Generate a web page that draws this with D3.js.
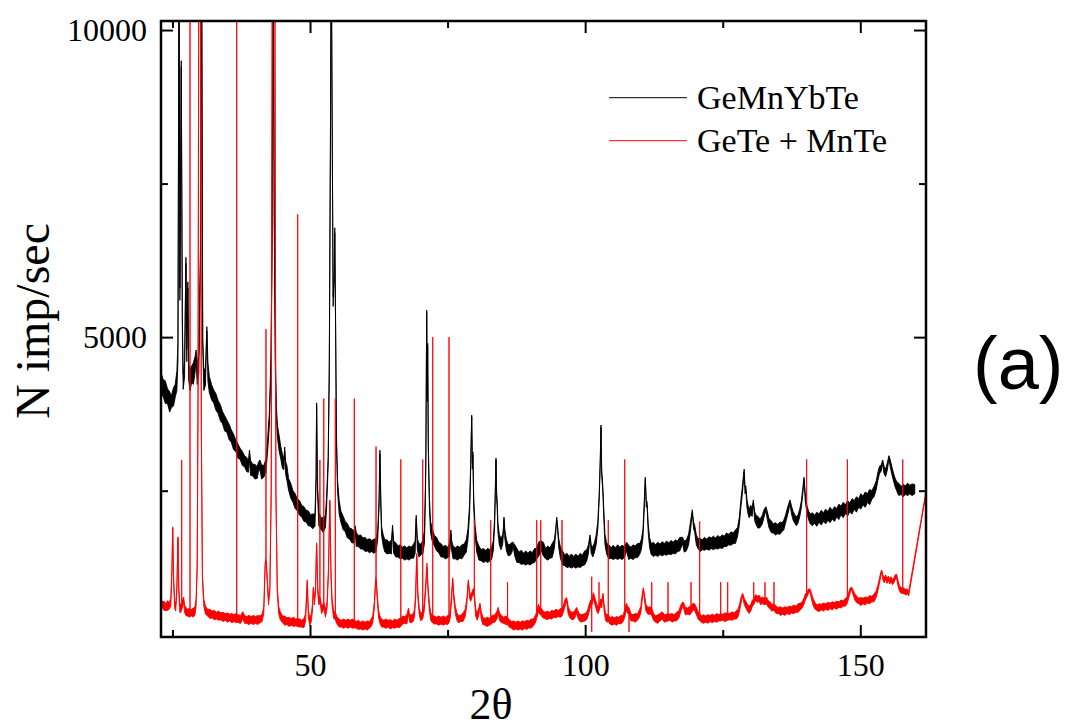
<!DOCTYPE html>
<html>
<head>
<meta charset="utf-8">
<title>GeMnYbTe / GeTe + MnTe</title>
<style>
    body { margin: 0; background: #fff; }
    svg text { font-family: "Liberation Serif", "Times New Roman", serif; fill: #000; }
</style>
</head>
<body>
<svg id="chart" width="1066" height="728"></svg>
<script src="https://d3js.org/d3.v7.min.js"></script>
<script>
    // tick values
    const xTicksMajor = [50, 100, 150];
    const xTicksMinor = [25, 75, 125];
    const yTicksMajor = [5000, 10000];
    const yTicksMinor = [2500, 7500];

    const seriesNames = ["GeMnYbTe", "GeTe + MnTe"];
    const seriesColors = ["#000000", "#ff0000"];

    // [2theta, low, high] of the noisy trace
    const gemnybte = [
        [22.9,4060,4440],[23.3,4040,4310],[23.7,3920,4290],[24.1,3920,4160],[24.5,3780,4110],[24.8,3850,4040],[25.2,3880,4180],[25.5,4020,4230],[25.8,4130,4440],
        [26.0,4600,4900],[26.2,11500,11500],[26.35,5600,5800],[26.6,9400,9500],[26.8,5100,5300],[26.95,4150,4400],[27.2,4350,4600],[27.45,6200,6300],
        [27.6,4600,4800],[27.8,5800,5900],[27.95,4300,4550],[28.2,4130,4480],[28.5,4270,4530],[28.8,4230,4580],[29.1,4420,4680],[29.3,4650,4790],
        [29.5,4230,4580],[29.8,4420,4730],[30.1,6400,6500],[30.3,11500,11500],[30.5,4900,5000],[30.7,4130,4480],[31.0,4220,4480],[31.25,5100,5170],
        [31.45,4280,4580],[31.7,4100,4360],
        [32.1,3980,4230],[32.5,3930,4140],[32.9,3810,4080],[33.3,3760,3970],[33.7,3640,3900],[34.1,3590,3790],[34.5,3470,3720],[34.9,3450,3650],
        [35.3,3330,3580],[35.7,3290,3490],[36.1,3170,3420],[36.5,3140,3330],[36.9,3030,3260],[37.3,3010,3190],[37.7,2910,3140],[38.1,2890,3070],
        [38.5,2810,3040],[38.8,2800,2990],[39.0,3000,3160],[39.2,2750,2990],[39.6,2740,2930],[40.0,2690,2930],[40.4,2700,2890],[40.6,2800,2960],
        [40.9,2850,3000],[41.2,2690,2920],[41.6,2720,2910],[42.0,2800,3020],[42.3,3150,3350],[42.6,3550,3750],[42.9,4450,4650],[43.1,6400,6550],
        [43.3,11500,11500],[43.5,6900,7050],[43.7,4450,4650],[43.9,3650,3850],[44.1,3350,3550],[44.4,3140,3390],[44.7,3010,3210],[45.0,2860,3090],
        [45.25,2840,3020],[45.4,3150,3210],[45.55,2780,2980],[45.8,2670,2910],[46.1,2510,2700],[46.5,2380,2620],[46.9,2310,2500],[47.3,2210,2450],
        [47.7,2170,2360],[48.1,2100,2340],[48.5,2070,2260],[48.9,2000,2240],[49.3,1990,2180],[49.7,1930,2170],[50.1,1920,2110],[50.5,1880,2120],
        [50.9,1920,2120],[51.1,2600,2750],[51.2,3880,3930],[51.35,2500,2650],[51.6,1930,2150],[52.0,1870,2060],[52.4,1820,2060],[52.8,1900,2100],
        [53.0,2200,2380],[53.3,2900,3050],[53.5,4400,4550],[53.7,7900,8050],[53.85,11500,11500],[54.0,8900,9000],[54.2,5500,5650],[54.4,5900,6050],
        [54.5,6700,6780],[54.65,5100,5250],[54.8,3300,3450],[55.0,2500,2680],[55.3,2120,2340],[55.6,1990,2170],[56.0,1870,2090],[56.4,1830,2000],
        [56.8,1730,1960],[57.2,1710,1890],[57.6,1650,1880],[58.0,1650,1840],[58.2,1850,1930],[58.4,1590,1820],[58.8,1590,1770],[59.2,1550,1780],
        [59.6,1550,1730],[60.0,1510,1740],[60.4,1520,1700],[60.8,1490,1720],[61.2,1510,1690],[61.6,1480,1710],[62.0,1510,1720],[62.3,1700,1850],
        [62.55,2250,2350],[62.7,3100,3160],[62.85,2320,2450],[63.0,1780,1920],[63.3,1600,1780],[63.6,1500,1700],[64.0,1470,1700],[64.4,1480,1660],
        [64.8,1470,1700],[65.0,1850,1940],[65.2,1480,1680],[65.6,1420,1650],[66.0,1420,1600],[66.4,1390,1620],[66.8,1400,1580],[67.2,1370,1600],
        [67.6,1390,1570],[68.0,1370,1600],[68.4,1400,1580],[68.8,1400,1630],[69.1,1480,1680],[69.3,2050,2100],[69.5,1540,1720],[69.8,1420,1640],
        [70.2,1460,1630],[70.5,1470,1700],[70.8,1650,1850],[70.95,2300,2500],[71.05,2950,3050],[71.2,5400,5440],[71.3,3950,4050],[71.38,4850,4900],
        [71.5,3150,3250],[71.7,2220,2380],[71.9,1820,2000],[72.2,1680,1890],[72.6,1600,1770],[73.0,1520,1740],[73.4,1490,1660],[73.8,1420,1640],
        [74.2,1420,1590],[74.6,1390,1610],[75.0,1410,1580],[75.3,1430,1630],[75.45,1550,1700],[75.6,1800,1860],[75.75,1520,1680],[76.0,1390,1600],
        [76.4,1390,1570],[76.8,1370,1600],[77.2,1400,1580],[77.6,1390,1620],[78.0,1450,1630],[78.4,1500,1700],[78.7,1700,1880],[79.0,2120,2280],
        [79.2,2850,2950],[79.38,3700,3730],[79.5,2850,2950],[79.6,3080,3130],[79.75,2220,2380],[80.0,1760,1930],[80.3,1500,1690],[80.7,1370,1600],
        [81.1,1360,1540],[81.5,1330,1560],[81.9,1350,1530],[82.3,1330,1560],[82.7,1360,1540],[83.0,1380,1580],[83.3,1520,1680],[83.55,1920,2060],
        [83.7,2550,2650],[83.8,3000,3030],[83.92,2350,2450],[84.0,2250,2370],[84.15,1830,1980],[84.4,1620,1790],[84.7,1540,1720],[85.0,1620,1780],
        [85.15,1800,1900],[85.25,2030,2070],[85.4,1720,1870],[85.7,1520,1700],[86.0,1440,1620],[86.4,1450,1630],[86.7,1500,1660],[86.9,1600,1660],
        [87.2,1440,1620],[87.6,1330,1560],[88.0,1330,1500],[88.4,1300,1530],[88.8,1310,1480],[89.2,1290,1520],[89.6,1310,1480],[90.0,1290,1520],
        [90.4,1320,1490],[90.8,1330,1560],[91.2,1390,1560],[91.6,1440,1670],[92.0,1530,1680],[92.4,1440,1660],[92.8,1390,1560],[93.2,1370,1600],
        [93.6,1400,1570],[94.0,1410,1640],[94.4,1560,1700],[94.65,1800,1880],[94.83,2030,2070],[95.0,1850,1920],[95.2,1580,1720],[95.5,1400,1580],
        [95.9,1290,1520],[96.3,1280,1450],[96.7,1250,1480],[97.1,1260,1430],[97.5,1240,1470],[97.9,1260,1430],[98.3,1240,1470],[98.7,1260,1430],
        [99.1,1250,1480],[99.5,1280,1450],[99.9,1290,1520],[100.3,1360,1540],[100.6,1480,1620],[100.88,1740,1780],[101.1,1480,1620],[101.4,1420,1580],
        [101.7,1500,1660],[102.0,1620,1780],[102.3,1880,2000],[102.55,2350,2450],[102.75,2950,3050],[102.88,3530,3570],[103.0,2750,2850],
        [103.2,2500,2600],[103.4,2030,2180],[103.6,1630,1790],[103.9,1470,1650],[104.3,1390,1620],[104.7,1400,1570],[105.1,1380,1610],
        [105.5,1400,1570],[105.9,1380,1620],[106.3,1400,1580],[106.7,1380,1610],[107.1,1410,1590],[107.55,1520,1660],[107.9,1380,1610],
        [108.3,1400,1580],[108.7,1380,1620],[109.1,1410,1600],[109.5,1410,1640],[109.9,1460,1640],[110.2,1540,1700],[110.5,1720,1860],
        [110.7,2130,2250],[110.93,2680,2720],[111.1,2230,2350],[111.25,2260,2320],[111.45,1830,1970],[111.7,1580,1740],[112.0,1460,1640],
        [112.4,1430,1660],[112.8,1450,1620],[113.2,1430,1660],[113.6,1460,1630],[114.0,1440,1670],[114.4,1460,1640],[114.8,1450,1680],
        [115.2,1470,1650],[115.6,1460,1690],[116.0,1480,1660],[116.4,1470,1700],[116.8,1510,1680],[117.2,1520,1740],[117.7,1640,1740],
        [118.0,1500,1680],[118.4,1520,1700],[118.8,1620,1790],[119.1,1820,1970],[119.47,2140,2190],[119.7,1880,1990],[119.9,1830,1940],
        [120.2,1620,1780],[120.5,1560,1720],[120.9,1510,1720],[121.3,1540,1700],[121.7,1530,1740],[122.1,1550,1710],[122.5,1530,1750],
        [122.9,1560,1730],[123.3,1540,1760],[123.7,1560,1730],[124.1,1550,1770],[124.5,1570,1740],[124.9,1560,1780],[125.3,1590,1760],
        [125.7,1590,1810],[126.1,1620,1790],[126.5,1610,1830],[126.9,1640,1810],[127.3,1640,1860],[127.7,1760,1900],[128.0,1930,2060],
        [128.3,2230,2350],[128.55,2430,2550],[128.75,2640,2740],[128.9,2800,2850],[129.05,2450,2560],[129.2,2500,2580],[129.4,2230,2360],
        [129.6,2120,2260],[129.8,2060,2210],[130.1,2110,2260],[130.35,2080,2220],[130.56,2300,2350],[130.8,2020,2160],[131.0,1960,2110],
        [131.4,1890,2080],[131.8,1900,2040],[132.2,1960,2100],[132.5,2070,2190],[132.86,2180,2240],[133.1,2030,2160],[133.4,1900,2050],
        [133.8,1820,2010],[134.2,1810,1960],[134.6,1780,1980],[135.0,1800,1950],[135.4,1790,1990],[135.8,1840,1980],[136.1,1860,2020],
        [136.4,1970,2100],[136.7,2070,2200],[137.0,2180,2290],[137.22,2300,2350],[137.5,2120,2250],[137.8,2020,2160],[138.1,1970,2110],
        [138.4,1930,2070],[138.7,1980,2110],[139.0,2080,2200],[139.3,2230,2340],[139.6,2490,2580],[139.77,2680,2720],[140.0,2330,2450],
        [140.3,2130,2260],[140.6,2030,2170],[140.9,1960,2120],
        [141.3,1930,2140],[141.7,1970,2100],[142.1,1920,2150],[142.5,1990,2120],[142.9,1940,2180],[143.3,2000,2140],[143.7,1960,2200],
        [144.1,2020,2160],[144.5,1980,2230],[144.9,2040,2180],[145.3,2000,2240],[145.7,2070,2210],[146.1,2030,2280],[146.5,2110,2250],
        [146.9,2060,2310],[147.3,2130,2270],[147.7,2090,2340],[148.1,2160,2300],[148.5,2120,2370],[148.9,2200,2340],[149.3,2150,2400],
        [149.7,2230,2370],[150.1,2200,2450],[150.5,2270,2410],[150.9,2230,2480],[151.3,2310,2450],[151.7,2270,2520],[152.1,2360,2500],
        [152.5,2400,2570],[152.9,2520,2660],[153.2,2670,2800],[153.5,2780,2900],[153.8,2820,2920],[154.07,2940,3000],[154.3,2780,2900],
        [154.6,2730,2850],[154.9,2830,2950],[155.2,3020,3070],[155.45,2880,3000],[155.7,2780,2900],[156.0,2670,2800],[156.3,2570,2710],
        [156.6,2500,2650],[157.0,2420,2620],[157.4,2440,2570],[157.8,2400,2600],[158.2,2440,2580],[158.6,2420,2620],[159.0,2450,2590],
        [159.4,2420,2610],[159.9,2450,2600]
    ];

    const geteMnte = [
        [22.9,610,740],[23.2,580,690],[23.5,550,700],[23.8,550,660],[24.1,550,710],[24.4,570,680],[24.7,620,750],[24.9,1150,1210],[25.05,1880,1910],
        [25.2,1060,1120],[25.4,590,710],[25.6,540,660],[25.8,860,930],[26.0,1720,1750],[26.15,860,940],[26.35,510,630],[26.6,540,670],
        [26.68,560,680],[26.68,560,3000],[26.68,560,680],
        [26.9,620,740],[27.05,690,770],[27.2,520,640],[27.5,460,590],[27.8,460,570],[28.0,440,580],
        [28.19,450,570],[28.19,450,11500],[28.19,450,570],
        [28.5,460,570],[28.8,440,590],[29.1,480,610],[29.3,620,740],[29.5,1250,1330],[29.65,3950,4050],[29.8,11500,11500],[30.1,11500,11500],
        [30.25,3450,3550],[30.45,1050,1130],[30.7,620,740],[31.0,490,620],[31.4,460,570],[31.8,420,570],[32.2,430,540],[32.6,400,550],
        [33.0,410,520],[33.4,390,540],[33.8,400,510],[34.2,370,520],[34.6,390,500],[35.0,360,510],[35.4,380,490],[35.8,350,500],[36.2,370,480],
        [36.5,350,500],
        [36.68,360,490],[36.68,360,11500],[36.68,360,490],
        [37.0,350,480],[37.4,340,470],[37.8,420,530],[38.1,340,470],[38.5,340,450],[38.9,320,470],[39.3,340,450],[39.7,320,470],[40.1,340,450],
        [40.5,320,470],[40.9,350,460],[41.3,370,490],[41.6,500,610],[41.85,1260,1320],
        [42.0,1360,1420],[42.0,1360,5130],[42.0,1360,1420],
        [42.2,1060,1130],[42.45,640,750],[42.7,850,930],[42.95,2450,2550],[43.15,11500,11500],[43.6,11500,11500],[43.8,2450,2550],[44.05,850,950],
        [44.3,500,620],[44.6,400,530],[45.0,350,460],[45.4,310,460],[45.8,320,430],[46.2,290,440],[46.6,310,420],[47.0,290,440],[47.4,300,410],
        [47.76,290,420],[47.76,290,7000],[47.76,290,420],
        [48.1,280,410],[48.5,280,390],[48.9,270,420],[49.2,380,500],[49.5,1000,1050],[49.7,440,550],[49.95,310,440],[50.2,360,480],[50.45,540,650],
        [50.6,890,930],[50.8,640,750],[51.0,850,930],[51.2,1610,1650],[51.4,850,940],[51.6,640,750],
        [51.8,700,800],[51.8,700,3000],[51.8,700,800],
        [52.1,500,620],[52.35,540,650],
        [52.5,600,700],[52.5,600,4000],[52.5,600,700],
        [52.8,440,560],[53.1,590,700],[53.35,1150,1230],[53.6,2320,2350],[53.8,1150,1230],[54.0,640,750],[54.3,420,540],
        [54.6,400,520],[54.6,400,4000],[54.6,400,520],
        [54.9,330,450],[55.3,280,410],[55.7,280,390],[56.1,260,410],[56.5,280,390],[56.9,260,410],[57.3,280,390],[57.7,260,410],
        [58.05,270,400],[58.05,270,4000],[58.05,270,400],
        [58.4,260,370],[58.8,240,390],[59.2,250,360],[59.6,230,380],[60.0,250,360],[60.4,230,380],[60.8,260,370],[61.1,290,410],[61.4,340,460],
        [61.7,600,700],[61.9,960,1030],
        [62.0,1050,1120],[62.0,1050,3220],[62.0,1050,1120],
        [62.2,750,840],[62.45,440,560],[62.7,340,460],[63.0,280,410],[63.4,280,390],[63.8,260,410],[64.2,280,390],[64.6,250,400],[65.0,270,380],
        [65.4,260,410],[65.8,280,390],[66.2,270,420],
        [66.5,290,420],[66.5,290,3010],[66.5,290,420],
        [66.8,330,460],[67.2,340,450],[67.6,330,480],[67.9,500,590],[68.1,360,480],[68.5,350,480],[68.8,380,510],[69.0,460,570],[69.2,750,850],
        [69.4,1440,1480],[69.6,750,850],[69.85,490,600],[70.1,380,500],[70.3,400,520],
        [70.48,410,530],[70.48,410,3010],[70.48,410,530],
        [70.75,540,660],[71.0,850,950],[71.25,1250,1320],[71.45,850,950],[71.7,540,660],[71.95,390,510],[72.15,360,480],
        [72.3,350,470],[72.3,350,5000],[72.3,350,470],
        [72.6,330,460],[73.0,330,440],[73.4,310,460],[73.8,330,440],[74.2,310,460],[74.6,330,440],[75.0,320,470],
        [75.26,350,470],[75.26,350,5000],[75.26,350,470],
        [75.5,440,560],[75.75,750,850],[75.93,1040,1080],[76.1,750,850],[76.4,500,620],[76.7,390,510],[77.0,350,470],[77.4,370,470],[77.8,370,510],
        [78.2,450,570],[78.5,650,750],[78.77,1010,1050],[79.0,750,850],[79.2,700,800],[79.45,770,860],[79.7,830,910],
        [79.86,760,860],[79.86,760,2020],[79.86,760,860],
        [80.1,460,580],[80.4,390,510],[80.7,490,600],[80.89,630,670],[81.1,420,540],[81.4,320,440],[81.8,310,420],[82.2,290,440],[82.6,310,420],
        [82.84,320,450],[82.84,320,2020],[82.84,320,450],
        [83.2,350,470],[83.6,360,480],[84.0,420,540],[84.2,510,600],[84.45,390,510],[84.8,350,470],[85.2,340,440],[85.6,320,460],
        [85.9,320,440],[85.9,320,1010],[85.9,320,440],
        [86.2,280,400],[86.6,260,370],[87.0,230,380],[87.4,250,360],[87.8,230,380],[88.2,250,360],[88.6,230,380],[89.0,260,370],[89.4,240,390],
        [89.8,270,380],[90.2,260,410],[90.6,300,410],[91.0,360,480],
        [91.2,420,540],[91.2,420,2020],[91.2,420,540],
        [91.5,530,650],[91.75,490,600],
        [91.93,480,600],[91.93,480,2020],[91.93,480,600],
        [92.3,430,550],[92.7,420,520],[93.1,400,540],[93.5,420,520],[93.9,410,550],[94.3,440,540],[94.7,430,570],[95.1,450,550],[95.5,440,580],
        [95.79,460,580],[95.79,460,2020],[95.79,460,580],
        [96.1,540,650],[96.4,640,740],[96.64,700,760],[96.9,500,620],[97.2,430,550],[97.6,400,520],[98.0,410,530],[98.46,500,600],[98.8,400,520],
        [99.2,360,480],[99.6,370,490],[100.0,380,500],[100.4,420,540],[100.7,520,640],[101.0,620,720],
        [101.19,620,720],[101.19,200,1100],[101.19,620,720],
        [101.5,740,840],[101.8,640,750],[102.1,540,650],[102.35,500,610],
        [102.52,540,640],[102.52,540,1010],[102.52,540,640],
        [102.85,640,740],[103.0,590,700],[103.24,790,830],[103.45,540,650],[103.7,390,510],[103.95,360,480],
        [104.2,370,490],[104.2,370,2020],[104.2,370,490],
        [104.5,330,430],[104.9,310,450],[105.3,330,430],[105.7,310,450],[106.1,340,440],[106.5,330,470],[106.9,370,470],
        [107.19,440,560],[107.19,440,3010],[107.19,440,560],
        [107.5,560,670],[107.75,500,610],
        [107.97,480,600],[107.97,200,600],[107.97,480,600],
        [108.3,380,500],[108.7,380,480],[109.1,360,500],[109.5,390,490],[109.8,430,550],[110.1,500,610],[110.35,700,800],[110.57,880,920],
        [110.8,700,800],[111.05,540,650],[111.4,490,600],[111.8,490,610],
        [112.1,470,590],[112.1,470,1010],[112.1,470,590],
        [112.4,390,510],[112.8,360,460],[113.2,340,480],[113.6,380,500],[114.0,410,530],[114.4,360,480],[114.8,370,490],
        [115.06,380,500],[115.06,380,1010],[115.06,380,500],
        [115.4,390,490],[115.8,360,500],[116.2,380,480],[116.6,380,520],[117.0,420,540],[117.4,530,640],[117.75,630,690],[117.97,560,660],
        [118.2,480,600],[118.6,490,590],[119.0,480,620],
        [119.24,500,620],[119.24,500,1010],[119.24,500,620],
        [119.6,560,670],[119.96,540,650],[120.3,460,580],[120.6,400,520],
        [120.81,390,510],[120.81,390,2000],[120.81,390,510],
        [121.1,360,460],[121.5,340,480],[121.9,360,460],[122.3,340,480],[122.7,370,470],[123.1,350,490],[123.5,370,470],[123.9,360,500],
        [124.3,380,480],
        [124.63,380,500],[124.63,380,1010],[124.63,380,500],
        [125.0,390,490],[125.4,370,510],
        [125.9,390,510],[125.9,390,1010],[125.9,390,510],
        [126.3,400,500],[126.7,390,530],[127.1,410,510],[127.5,410,550],[127.8,450,570],[128.1,560,670],[128.35,680,770],[128.62,790,830],
        [128.9,650,750],[129.2,590,700],[129.5,540,650],[129.8,500,620],[130.1,540,650],[130.4,620,720],
        [130.63,640,740],[130.63,640,1010],[130.63,640,740],
        [131.0,720,810],[131.3,680,780],[131.6,700,800],[131.9,640,750],[132.2,670,770],[132.5,640,750],
        [132.68,650,760],[132.68,650,1010],[132.68,650,760],
        [133.0,650,760],[133.3,600,710],[133.6,580,690],[133.9,540,650],
        [134.32,550,660],[134.32,550,1010],[134.32,550,660],
        [134.7,500,620],[135.1,500,600],[135.5,470,610],[135.9,490,590],[136.3,470,610],[136.7,500,600],[137.1,480,620],[137.5,510,610],
        [137.9,500,640],[138.3,520,620],[138.7,520,660],[139.1,560,670],[139.5,600,700],[139.8,660,760],[140.0,720,820],
        [140.25,760,840],[140.25,760,3010],[140.25,760,840],
        [140.6,830,900],[140.86,860,900],[141.1,750,840],[141.4,640,750],[141.7,580,690],[142.1,550,640],[142.5,530,660],[142.9,560,650],
        [143.3,540,670],[143.7,570,660],[144.1,550,680],[144.5,580,670],[144.9,560,690],[145.3,590,680],[145.7,570,700],[146.1,600,690],
        [146.5,590,720],[146.9,620,710],[147.3,620,750],
        [147.65,670,770],[147.65,670,3010],[147.65,670,770],
        [147.95,770,860],[148.2,850,920],[148.43,890,930],[148.7,800,880],[149.0,720,820],[149.3,680,790],[149.7,660,750],[150.1,630,760],
        [150.5,660,750],[150.9,640,770],[151.3,670,760],[151.7,660,790],[152.1,690,780],[152.5,690,820],[152.9,770,870],[153.2,870,960],
        [153.5,1000,1080],[153.7,1100,1170],[153.89,1170,1210],[154.1,1050,1130],[154.35,1000,1080],[154.6,1060,1130],[154.85,990,1070],
        [155.1,1040,1110],[155.35,980,1060],[155.6,1020,1100],[155.85,970,1050],[156.1,1000,1080],[156.35,1060,1130],[156.6,1070,1140],
        [156.85,950,1040],[157.1,870,960],[157.4,830,920],
        [157.71,830,920],[157.71,830,3010],[157.71,830,920],
        [158.0,820,910],[158.3,800,890],[158.55,820,900],[158.8,790,860],[165.0,4080,4080]
    ];

    const svg = d3.select('#chart');
    const plotLeft = 161, plotRight = 926, plotTop = 21, plotBottom = 637;
    const serif = '"Liberation Serif", "Times New Roman", serif';

    const x = d3.scaleLinear().domain([22.92, 161.94]).range([plotLeft, plotRight]);
    const y = d3.scaleLinear().domain([118, 10147]).range([plotBottom, plotTop]);

    svg.append('defs').append('clipPath').attr('id', 'plotClip')
        .append('rect')
        .attr('x', plotLeft).attr('y', plotTop)
        .attr('width', plotRight - plotLeft).attr('height', plotBottom - plotTop);

    // noise band: filled between low and high, outlined so narrow peaks stay visible
    const band = d3.area()
        .x(d => x(d[0]))
        .y0(d => y(d[1]))
        .y1(d => y(d[2]));

    const plot = svg.append('g').attr('clip-path', 'url(#plotClip)');
    [gemnybte, geteMnte].forEach((data, i) => {
        plot.append('path')
            .datum(data)
            .attr('d', band)
            .attr('fill', seriesColors[i])
            .attr('stroke', seriesColors[i])
            .attr('stroke-width', 0.9)
            .attr('stroke-linejoin', 'round');
    });

    // axes, ticks pointing inward on all four sides
    function styleAxis(g) {
        g.attr('font-family', serif).attr('font-size', 32);
        g.select('.domain').remove();
        g.selectAll('.tick line').attr('stroke', '#000').attr('stroke-width', 2);
        g.selectAll('.tick text').attr('fill', '#000');
    }

    svg.append('g').attr('transform', `translate(0,${plotBottom})`)
        .call(d3.axisBottom(x).tickValues(xTicksMajor).tickSize(-12).tickPadding(16).tickFormat(d3.format('d')))
        .call(styleAxis);
    svg.append('g').attr('transform', `translate(0,${plotBottom})`)
        .call(d3.axisBottom(x).tickValues(xTicksMinor).tickSize(-7).tickFormat(''))
        .call(styleAxis);
    svg.append('g').attr('transform', `translate(0,${plotTop})`)
        .call(d3.axisTop(x).tickValues(xTicksMajor).tickSize(-12).tickFormat(''))
        .call(styleAxis);
    svg.append('g').attr('transform', `translate(0,${plotTop})`)
        .call(d3.axisTop(x).tickValues(xTicksMinor).tickSize(-7).tickFormat(''))
        .call(styleAxis);

    svg.append('g').attr('transform', `translate(${plotLeft},0)`)
        .call(d3.axisLeft(y).tickValues(yTicksMajor).tickSize(-12).tickPadding(14).tickFormat(d3.format('d')))
        .call(styleAxis);
    svg.append('g').attr('transform', `translate(${plotLeft},0)`)
        .call(d3.axisLeft(y).tickValues(yTicksMinor).tickSize(-7).tickFormat(''))
        .call(styleAxis);
    svg.append('g').attr('transform', `translate(${plotRight},0)`)
        .call(d3.axisRight(y).tickValues(yTicksMajor).tickSize(-12).tickFormat(''))
        .call(styleAxis);
    svg.append('g').attr('transform', `translate(${plotRight},0)`)
        .call(d3.axisRight(y).tickValues(yTicksMinor).tickSize(-7).tickFormat(''))
        .call(styleAxis);

    // frame
    svg.append('rect')
        .attr('x', plotLeft).attr('y', plotTop)
        .attr('width', plotRight - plotLeft).attr('height', plotBottom - plotTop)
        .attr('fill', 'none')
        .attr('stroke', '#000')
        .attr('stroke-width', 2.5);

    // axis titles
    svg.append('text')
        .attr('x', 491).attr('y', 719)
        .attr('text-anchor', 'middle')
        .style('font-size', '44px')
        .text('2θ');

    svg.append('text')
        .attr('transform', 'translate(49,321) rotate(-90)')
        .attr('text-anchor', 'middle')
        .style('font-size', '48px')
        .text('N imp/sec');

    // legend
    const legend = svg.append('g');
    seriesNames.forEach((name, i) => {
        const ly = 97.7 + i * 43;
        legend.append('line')
            .attr('x1', 609).attr('x2', 687)
            .attr('y1', ly).attr('y2', ly)
            .attr('stroke', seriesColors[i])
            .attr('stroke-width', 1);
        legend.append('text')
            .attr('x', 697).attr('y', ly + 11.5)
            .style('font-size', '34px')
            .text(name);
    });

    svg.append('text')
        .attr('x', 973).attr('y', 389)
        .style('font-family', '"Liberation Sans", Arial, sans-serif')
        .style('font-size', '74px')
        .text('(a)');
</script>
</body>
</html>
